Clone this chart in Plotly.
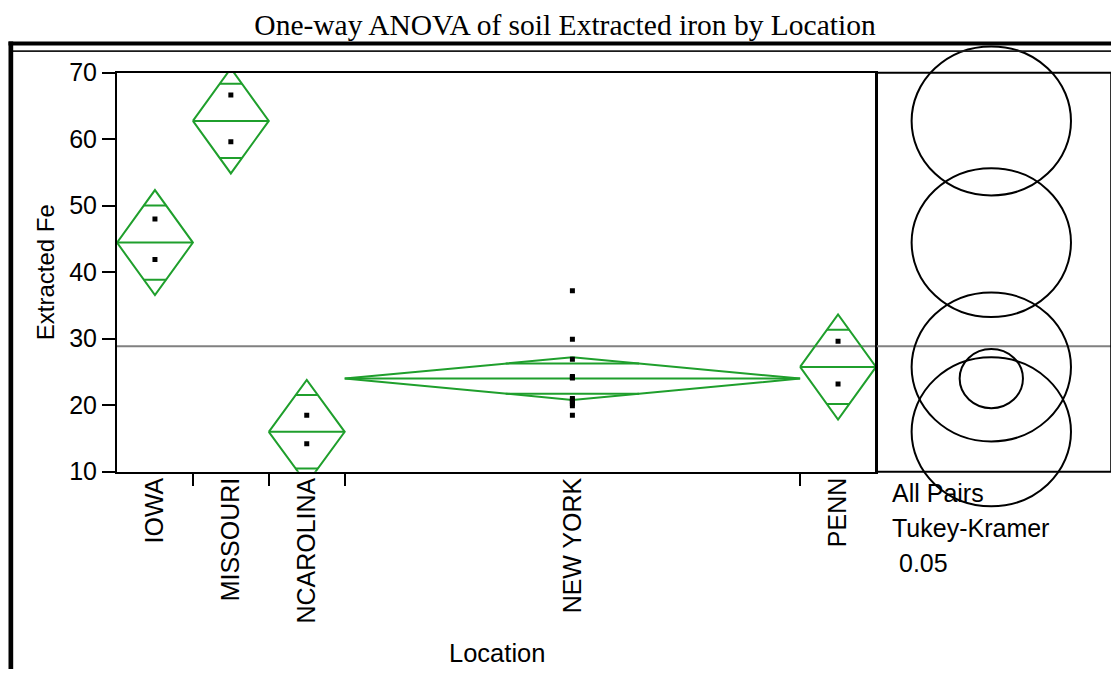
import numpy as np
import plotly.graph_objects as go

# ---------------- data ----------------
locations = ["IOWA", "MISSOURI", "NCAROLINA", "NEW YORK", "PENN"]
group_n = [2, 2, 2, 12, 2]
group_means = [44.45, 62.75, 16.0, 24.0, 25.75]
ci_half_width = [7.9, 7.9, 7.8, 3.2, 7.9]
tukey_radius = [11.2, 11.2, 11.2, 4.45, 11.2]

iowa_fe = [48.0, 41.9]
missouri_fe = [66.65, 59.6]
ncarolina_fe = [18.5, 14.2]
newyork_fe = [37.2, 29.9, 26.9, 24.3, 24.2, 24.1, 21.0, 20.8, 20.5, 20.2, 19.9, 18.5]
penn_fe = [29.6, 23.2]
group_values = [iowa_fe, missouri_fe, ncarolina_fe, newyork_fe, penn_fe]

grand_mean = 28.86
y_ticks = [10, 20, 30, 40, 50, 60, 70]
y_range = [10, 70]

# ---------------- geometry (screen pixels of the target) ----------------
OFF = 8  # default page body margin of the written html
SW, SH = 1119, 677
W, H = SW - OFF, SH - 2 * OFF
plot_left, plot_right, main_right = 117 - OFF, 1112 - OFF, 876 - OFF
main_top, main_bottom = 72.7 - OFF, 471.7 - OFF
paper_top, paper_bottom = 38 - OFF, 510 - OFF
pw = plot_right - plot_left
ph = paper_bottom - paper_top


def px(x):  # target screen x -> paper
    return (x - OFF - plot_left) / pw


def py(y):  # target screen y -> paper
    return (paper_bottom - (y - OFF)) / ph


main_xdom = [0, (main_right - plot_left) / pw]
main_ydom = [(paper_bottom - main_bottom) / ph, (paper_bottom - main_top) / ph]
units_per_px = (y_range[1] - y_range[0]) / (main_bottom - main_top)
y2_range = [y_range[0] - (paper_bottom - main_bottom) * units_per_px,
            y_range[1] + (main_top - paper_top) * units_per_px]
ppu_x = 1.07 / units_per_px
circle_cx = 991.3 - OFF
x3_range = [-(circle_cx - main_right) / ppu_x, (plot_right - circle_cx) / ppu_x]

GREEN = "#1f9f2c"
FONT = "Liberation Sans, Arial, sans-serif"

# ---------------- category layout ----------------
edges = np.concatenate([[0], np.cumsum(group_n)])
total_n = float(edges[-1])
centers = (edges[:-1] + edges[1:]) / 2.0

fig = go.Figure()

# grand mean line (both panels)
fig.add_trace(go.Scatter(x=[0, total_n], y=[grand_mean, grand_mean], mode="lines",
                         line=dict(color="#808080", width=2), xaxis="x", yaxis="y",
                         hoverinfo="skip", showlegend=False))
fig.add_trace(go.Scatter(x=x3_range, y=[grand_mean, grand_mean], mode="lines",
                         line=dict(color="#808080", width=2), xaxis="x3", yaxis="y2",
                         hoverinfo="skip", showlegend=False))

# means diamonds
dx, dy = [], []
for i in range(len(locations)):
    left, right, c = edges[i], edges[i + 1], centers[i]
    m, h = group_means[i], ci_half_width[i]
    dx += [left, c, right, c, left, None, left, right, None]
    dy += [m, m + h, m, m - h, m, None, m, m, None]
    off = h / np.sqrt(2)
    half = (right - left) / 2.0 * (1 - 1 / np.sqrt(2))
    for s in (1, -1):
        dx += [c - half, c + half, None]
        dy += [m + s * off, m + s * off, None]
fig.add_trace(go.Scatter(x=dx, y=dy, mode="lines", line=dict(color=GREEN, width=2),
                         xaxis="x", yaxis="y", hoverinfo="skip", showlegend=False))

# data points
px_pts, py_pts = [], []
for i, vals in enumerate(group_values):
    px_pts += [centers[i]] * len(vals)
    py_pts += list(vals)
fig.add_trace(go.Scatter(x=px_pts, y=py_pts, mode="markers",
                         marker=dict(color="black", size=5, symbol="square"),
                         xaxis="x2", yaxis="y", showlegend=False))

# Tukey-Kramer comparison circles
shapes = []
for m, r in zip(group_means, tukey_radius):
    shapes.append(dict(type="circle", xref="x3", yref="y2", x0=-r, x1=r, y0=m - r, y1=m + r,
                       line=dict(color="black", width=2)))

# circle panel frame
shapes.append(dict(type="rect", xref="paper", yref="paper", x0=main_xdom[1], x1=0.9992,
                   y0=main_ydom[0], y1=main_ydom[1], line=dict(color="black", width=2)))
# outer report borders: thick outer rule + thin inner rule, thick left rule
shapes.append(dict(type="rect", xref="paper", yref="paper", x0=px(8.5), x1=px(SW + 6),
                   y0=py(45.4), y1=py(41.6), fillcolor="black", line=dict(width=0)))
shapes.append(dict(type="rect", xref="paper", yref="paper", x0=px(12), x1=px(SW + 6),
                   y0=py(52.0), y1=py(50.2), fillcolor="#1a1a1a", line=dict(width=0)))
shapes.append(dict(type="rect", xref="paper", yref="paper", x0=px(8.5), x1=px(13.2),
                   y0=py(SH + 6), y1=py(41.6), fillcolor="black", line=dict(width=0)))

annotations = [
    dict(text="Extracted Fe", xref="paper", yref="y", x=px(45), y=40, textangle=-90,
         showarrow=False, xanchor="center", yanchor="middle",
         font=dict(family=FONT, size=24, color="black")),
    dict(text="Location", xref="x", yref="paper", x=total_n / 2, y=py(653),
         showarrow=False, xanchor="center", yanchor="middle",
         font=dict(family=FONT, size=25.5, color="black")),
    dict(text="All Pairs", xref="paper", yref="paper", x=px(890), y=py(493),
         showarrow=False, xanchor="left", yanchor="middle",
         font=dict(family=FONT, size=25, color="black")),
    dict(text="Tukey-Kramer", xref="paper", yref="paper", x=px(890), y=py(528),
         showarrow=False, xanchor="left", yanchor="middle",
         font=dict(family=FONT, size=25, color="black")),
    dict(text="0.05", xref="paper", yref="paper", x=px(897), y=py(563),
         showarrow=False, xanchor="left", yanchor="middle",
         font=dict(family=FONT, size=25, color="black")),
]

fig.update_layout(
    width=W, height=H,
    margin=dict(l=plot_left, r=W - plot_right, t=paper_top, b=H - paper_bottom, pad=0),
    paper_bgcolor="white", plot_bgcolor="white",
    title=dict(text="One-way ANOVA of soil Extracted iron by Location",
               x=(565 - OFF) / W, xref="container", xanchor="center",
               y=1 - (25 - OFF) / H, yref="container", yanchor="middle",
               font=dict(family="Liberation Serif, Times New Roman, serif", size=29.5, color="black")),
    xaxis=dict(domain=main_xdom, range=[0, total_n], anchor="y",
               tickvals=list(edges[1:-1]), ticks="outside", ticklen=12, tickwidth=2,
               tickcolor="black", showticklabels=False, showline=True, linecolor="black",
               linewidth=2, mirror=True, showgrid=False, zeroline=False, fixedrange=True),
    xaxis2=dict(overlaying="x", range=[0, total_n], anchor="y", side="bottom",
                tickvals=list(centers), ticktext=locations, tickangle=-90, ticks="",
                showline=False, showgrid=False, zeroline=False,
                tickfont=dict(family=FONT, size=25, color="black")),
    yaxis=dict(domain=main_ydom, range=y_range, anchor="x", tickvals=y_ticks,
               ticks="outside", ticklen=13, tickwidth=2, tickcolor="black",
               showline=True, linecolor="black", linewidth=2, mirror=True,
               showgrid=False, zeroline=False,
               tickfont=dict(family=FONT, size=25, color="black")),
    xaxis3=dict(domain=[main_xdom[1], 1.0], range=x3_range, anchor="y2",
                showline=False, showgrid=False, zeroline=False, showticklabels=False, ticks=""),
    yaxis2=dict(domain=[0, 1], range=y2_range, anchor="x3",
                showline=False, showgrid=False, zeroline=False, showticklabels=False, ticks=""),
    shapes=shapes,
    annotations=annotations,
    showlegend=False,
)

fig.write_html("out.html")
